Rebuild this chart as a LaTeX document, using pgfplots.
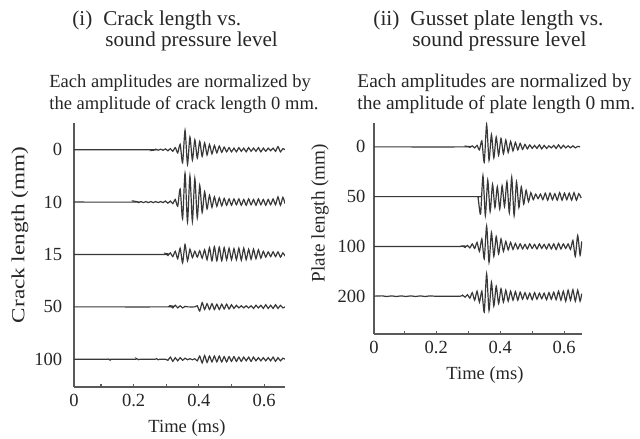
\documentclass[border=0pt]{standalone}
\usepackage{fontspec}
\setmainfont{Liberation Serif}
\usepackage{pgfplots}
\pgfplotsset{compat=1.18}

\pgfplotsset{
  wave/.style={
    scale only axis,
    axis x line*=bottom, axis y line*=left,
    axis line style={draw=black!65, line width=0.7pt},
    tick align=inside, major tick length=1.7bp,
    xtick style={draw=black!65, line width=0.6pt},
    ytick style={draw=none},
    ticklabel style={font=\fontsize{9.3}{10}\selectfont, text=black!85},
    /pgf/number format/assume math mode=true,
    ytick={0,-1,-2,-3,-4},
  },
  trace/.style={draw=black!78, line width=0.6pt, smooth, tension=0.4, mark=none},
}

\begin{document}
\begin{tikzpicture}
\path[use as bounding box] (0,0) rectangle (320bp,219.5bp);

% titles and notes
\begin{scope}[every node/.style={inner sep=0pt, text=black!85}]
\node[anchor=base west, font=\fontsize{10.6}{12}\selectfont] at (36bp,206.5bp) {(i)};
\node[anchor=base west, font=\fontsize{10.6}{12}\selectfont] at (51.5bp,206.5bp) {Crack length vs.};
\node[anchor=base west, font=\fontsize{10.6}{12}\selectfont] at (52.5bp,196.2bp) {sound pressure level};
\node[anchor=base west, font=\fontsize{9.3}{10}\selectfont] at (24.5bp,175.9bp) {Each amplitudes are normalized by};
\node[anchor=base west, font=\fontsize{9.3}{10}\selectfont] at (24.5bp,164.5bp) {the amplitude of crack length 0 mm.};

\node[anchor=base west, font=\fontsize{10.7}{12}\selectfont] at (186.5bp,206.5bp) {(ii)};
\node[anchor=base west, font=\fontsize{10.7}{12}\selectfont] at (205bp,206.5bp) {Gusset plate length vs.};
\node[anchor=base west, font=\fontsize{10.7}{12}\selectfont] at (206bp,196.2bp) {sound pressure level};
\node[anchor=base west, font=\fontsize{9.75}{10}\selectfont] at (178.5bp,175.9bp) {Each amplitudes are normalized by};
\node[anchor=base west, font=\fontsize{9.75}{10}\selectfont] at (178.5bp,164.5bp) {the amplitude of plate length 0 mm.};

\node[rotate=90, font=\fontsize{9.3}{10}\selectfont] at (10bp,102bp) {\scalebox{1.25}[1]{Crack length (mm)}};
\node[rotate=90, font=\fontsize{9.6}{10}\selectfont] at (160bp,113bp) {Plate length (mm)};
\node[anchor=base, font=\fontsize{9.3}{10}\selectfont] at (93.5bp,3.5bp) {Time (ms)};
\node[anchor=base, font=\fontsize{9.3}{10}\selectfont] at (242.5bp,29.8bp) {Time (ms)};
\end{scope}

% (i) crack length
\begin{axis}[wave,
  at={(37bp,26bp)}, anchor=south west,
  width=105.5bp, height=132bp,
  xmin=0.017, xmax=0.664, ymin=-4.53, ymax=0.51,
  xtick={0.017,0.1,0.2,0.3,0.4,0.5,0.6},
  xticklabels={0,,0.2,,0.4,,0.6},
  yticklabels={0,10,15,50,100},
  yticklabel style={xshift=-2.4bp},
]
% 0 mm
\addplot[trace] coordinates {
(0.017,0)(0.25,0)(0.26,-0.01)(0.2675,0.01)(0.275,-0.01)(0.2825,0.01)(0.29,-0.01)
(0.2975,0.015)(0.305,-0.02)(0.3125,0.02)(0.32,-0.03)(0.3275,0.04)(0.335,-0.06)
(0.3425,0.1)(0.35,-0.25)(0.3575,0.37)(0.365,-0.28)(0.3725,0.24)(0.38,-0.2)
(0.3875,0.19)(0.395,-0.16)(0.4025,0.16)(0.41,-0.13)(0.4175,0.13)(0.425,-0.1)
(0.4325,0.1)(0.44,-0.08)(0.4475,0.08)(0.455,-0.06)(0.4625,0.07)(0.47,-0.05)
(0.4775,0.05)(0.485,-0.04)(0.4925,0.04)(0.5,-0.04)(0.5075,0.03)(0.515,-0.04)
(0.5225,0.04)(0.53,-0.03)(0.5375,0.03)(0.545,-0.04)(0.5525,0.04)(0.56,-0.03)
(0.5675,0.03)(0.575,-0.03)(0.5825,0.04)(0.59,-0.04)(0.5975,0.03)(0.605,-0.03)
(0.6125,0.03)(0.62,-0.02)(0.6275,0.03)(0.635,-0.03)(0.6425,0.06)(0.65,-0.04)
(0.6575,0.02)(0.664,0)
};
% 10 mm
\addplot[trace, y filter/.expression={y-1}] coordinates {
(0.017,0)(0.2,0)(0.2075,0.01)(0.215,-0.01)(0.2225,0.01)(0.23,-0.01)(0.2375,0.01)
(0.245,-0.01)(0.2525,0.01)(0.26,-0.01)(0.2675,0.01)(0.275,-0.01)(0.2825,0.01)
(0.29,-0.01)(0.2975,0.02)(0.305,-0.02)(0.3125,0.02)(0.32,-0.03)(0.3275,0.05)
(0.335,-0.08)(0.3425,0.25)(0.35,-0.32)(0.3575,0.55)(0.365,-0.38)(0.3725,0.5)
(0.38,-0.37)(0.3875,0.45)(0.395,-0.3)(0.4025,0.32)(0.41,-0.2)(0.4175,0.2)
(0.425,-0.13)(0.4325,0.13)(0.44,-0.1)(0.4475,0.1)(0.455,-0.08)(0.4625,0.08)
(0.47,-0.07)(0.4775,0.07)(0.485,-0.06)(0.4925,0.06)(0.5,-0.06)(0.5075,0.06)
(0.515,-0.05)(0.5225,0.06)(0.53,-0.06)(0.5375,0.05)(0.545,-0.06)(0.5525,0.06)
(0.56,-0.05)(0.5675,0.05)(0.575,-0.06)(0.5825,0.06)(0.59,-0.05)(0.5975,0.05)
(0.605,-0.06)(0.6125,0.05)(0.62,-0.05)(0.6275,0.06)(0.635,-0.05)(0.6425,0.1)
(0.65,-0.06)(0.6575,0.09)(0.664,-0.03)
};
% 15 mm
\addplot[trace, y filter/.expression={y-2}] coordinates {
(0.017,0)(0.29,0)(0.2975,0.02)(0.305,-0.02)(0.3125,0.03)(0.32,-0.04)(0.3275,0.06)
(0.335,-0.08)(0.3425,0.12)(0.35,-0.16)(0.3575,0.19)(0.365,-0.12)(0.3725,0.1)
(0.38,-0.06)(0.3875,0.06)(0.395,-0.05)(0.4025,0.07)(0.41,-0.07)(0.4175,0.09)
(0.425,-0.1)(0.4325,0.13)(0.44,-0.12)(0.4475,0.15)(0.455,-0.12)(0.4625,0.14)
(0.47,-0.12)(0.4775,0.13)(0.485,-0.1)(0.4925,0.12)(0.5,-0.1)(0.5075,0.11)
(0.515,-0.1)(0.5225,0.12)(0.53,-0.11)(0.5375,0.12)(0.545,-0.1)(0.5525,0.1)
(0.56,-0.09)(0.5675,0.1)(0.575,-0.08)(0.5825,0.09)(0.59,-0.07)(0.5975,0.06)
(0.605,-0.05)(0.6125,0.05)(0.62,-0.04)(0.6275,0.05)(0.635,-0.04)(0.6425,0.05)
(0.65,-0.05)(0.6575,0.03)(0.664,-0.03)
};
% 50 mm
\addplot[trace, y filter/.expression={y-3}] coordinates {
(0.017,0)(0.305,0)(0.3125,0.02)(0.32,-0.02)(0.3275,0.03)(0.335,-0.02)(0.3425,0.02)
(0.35,-0.02)(0.3575,0.01)(0.365,0)(0.3875,0)(0.395,0.02)(0.4025,-0.08)(0.41,0.08)
(0.4175,-0.05)(0.425,0.06)(0.4325,-0.05)(0.44,0.06)(0.4475,-0.05)(0.455,0.05)
(0.4625,-0.05)(0.47,0.05)(0.4775,-0.04)(0.485,0.05)(0.4925,-0.04)(0.5,0.04)
(0.5075,-0.03)(0.515,0.03)(0.5225,-0.02)(0.53,0.02)(0.5375,-0.02)(0.545,0.02)
(0.5525,-0.02)(0.56,0.02)(0.5675,-0.03)(0.575,0.03)(0.5825,-0.02)(0.59,0.03)
(0.5975,-0.03)(0.605,0.04)(0.6125,-0.03)(0.62,0.03)(0.6275,-0.03)(0.635,0.04)
(0.6425,-0.03)(0.65,0.03)(0.6575,-0.02)(0.664,0)
};
% 100 mm
\addplot[trace, y filter/.expression={y-4}] coordinates {
(0.017,0)(0.115,0)(0.12,0.008)(0.125,-0.008)(0.13,0)(0.205,0)(0.21,0.008)(0.215,-0.008)
(0.22,0)(0.265,0)(0.27,0.012)(0.275,-0.01)(0.28,0)(0.2975,0)(0.305,-0.02)
(0.3125,0.04)(0.32,-0.04)(0.3275,0.03)(0.335,-0.03)(0.3425,0.03)(0.35,-0.02)
(0.3575,0.02)(0.365,-0.01)(0.3725,0.01)(0.38,-0.01)(0.3875,0.01)(0.395,-0.03)
(0.4025,0.06)(0.41,-0.07)(0.4175,0.07)(0.425,-0.06)(0.4325,0.06)(0.44,-0.05)
(0.4475,0.06)(0.455,-0.05)(0.4625,0.06)(0.47,-0.05)(0.4775,0.05)(0.485,-0.05)
(0.4925,0.05)(0.5,-0.04)(0.5075,0.05)(0.515,-0.04)(0.5225,0.04)(0.53,-0.04)
(0.5375,0.04)(0.545,-0.03)(0.5525,0.04)(0.56,-0.04)(0.5675,0.04)(0.575,-0.03)
(0.5825,0.03)(0.59,-0.03)(0.5975,0.03)(0.605,-0.03)(0.6125,0.03)(0.62,-0.03)
(0.6275,0.04)(0.635,-0.04)(0.6425,0.03)(0.65,-0.03)(0.6575,0.02)(0.664,0)
};
\end{axis}

% (ii) gusset plate length
\begin{axis}[wave,
  at={(187bp,52.5bp)}, anchor=south west,
  width=104bp, height=105.5bp,
  xmin=0.005, xmax=0.656, ymin=-3.76, ymax=0.48,
  xtick={0.005,0.1,0.2,0.3,0.4,0.5,0.6},
  xticklabels={0,,0.2,,0.4,,0.6},
  ytick={0,-1,-2,-3},
  yticklabels={0,50,100,200},
  yticklabel style={xshift=-0.8bp},
]
% 0 mm
\addplot[trace] coordinates {
(0.005,0)(0.29,0)(0.2975,0.01)(0.305,-0.01)(0.3125,0.02)(0.32,-0.02)(0.3275,0.03)
(0.335,-0.06)(0.3425,0.12)(0.35,-0.31)(0.3575,0.45)(0.365,-0.27)(0.3725,0.25)
(0.38,-0.22)(0.3875,0.2)(0.395,-0.17)(0.4025,0.17)(0.41,-0.14)(0.4175,0.14)
(0.425,-0.11)(0.4325,0.11)(0.44,-0.08)(0.4475,0.09)(0.455,-0.06)(0.4625,0.07)
(0.47,-0.05)(0.4775,0.05)(0.485,-0.04)(0.4925,0.04)(0.5,-0.03)(0.5075,0.03)
(0.515,-0.03)(0.5225,0.04)(0.53,-0.04)(0.5375,0.03)(0.545,-0.03)(0.5525,0.02)
(0.56,-0.02)(0.5675,0.03)(0.575,-0.03)(0.5825,0.04)(0.59,-0.03)(0.5975,0.03)
(0.605,-0.02)(0.6125,0.02)(0.62,-0.02)(0.6275,0.02)(0.635,-0.02)(0.6425,0.01)
(0.65,0)
};
% 50 mm
\addplot[trace, y filter/.expression={y-1}] coordinates {
(0.005,0)(0.3235,0)(0.3305,-0.02)(0.3385,-0.35)(0.346,0.42)(0.3535,-0.38)(0.361,0.33)
(0.3685,-0.3)(0.376,0.25)(0.3835,-0.22)(0.391,0.2)(0.3985,-0.25)(0.406,0.22)
(0.4135,-0.2)(0.421,0.3)(0.4285,-0.32)(0.436,0.39)(0.4435,-0.38)(0.451,0.3)
(0.4585,-0.22)(0.466,0.2)(0.4735,-0.15)(0.481,0.13)(0.4885,-0.1)(0.496,0.08)
(0.5035,-0.06)(0.511,0.05)(0.5185,-0.04)(0.526,0.05)(0.5335,-0.06)(0.541,0.07)
(0.5485,-0.07)(0.556,0.07)(0.5635,-0.06)(0.571,0.06)(0.5785,-0.07)(0.586,0.08)
(0.5935,-0.07)(0.601,0.07)(0.6085,-0.06)(0.616,0.07)(0.6235,-0.07)(0.631,0.08)
(0.6385,-0.07)(0.646,0.06)(0.6535,-0.03)
};
% 100 mm
\addplot[trace, y filter/.expression={y-2}] coordinates {
(0.005,0)(0.275,0)(0.2825,0.01)(0.29,-0.02)(0.2975,0.02)(0.305,-0.03)(0.3125,0.05)
(0.32,-0.04)(0.3275,0.08)(0.335,-0.1)(0.3425,0.15)(0.35,-0.25)(0.3575,0.41)
(0.365,-0.32)(0.3725,0.28)(0.38,-0.2)(0.3875,0.2)(0.395,-0.15)(0.4025,0.15)
(0.41,-0.1)(0.4175,0.1)(0.425,-0.07)(0.4325,0.08)(0.44,-0.06)(0.4475,0.06)
(0.455,-0.05)(0.4625,0.05)(0.47,-0.05)(0.4775,0.04)(0.485,-0.05)(0.4925,0.05)
(0.5,-0.04)(0.5075,0.04)(0.515,-0.05)(0.5225,0.05)(0.53,-0.04)(0.5375,0.04)
(0.545,-0.05)(0.5525,0.05)(0.56,-0.05)(0.5675,0.05)(0.575,-0.06)(0.5825,0.06)
(0.59,-0.05)(0.5975,0.05)(0.605,-0.04)(0.6125,0.05)(0.62,-0.06)(0.6275,0.12)
(0.635,-0.2)(0.6425,0.22)(0.65,-0.18)(0.655,0.1)
};
% 200 mm
\addplot[trace, y filter/.expression={y-3}] coordinates {
(0.005,0)(0.03,0.006)(0.045,-0.006)(0.06,0.006)(0.075,-0.006)(0.09,0.006)(0.105,-0.006)
(0.12,0.006)(0.135,-0.006)(0.15,0.006)(0.165,-0.006)(0.18,0.006)(0.195,0)(0.275,0)
(0.2825,0.02)(0.29,-0.02)(0.2975,0.03)(0.305,-0.04)(0.3125,0.07)(0.32,-0.08)
(0.3275,0.1)(0.335,-0.12)(0.3425,0.1)(0.35,-0.32)(0.3575,0.45)(0.365,-0.29)
(0.3725,0.28)(0.38,-0.2)(0.3875,0.2)(0.395,-0.15)(0.4025,0.15)(0.41,-0.12)
(0.4175,0.12)(0.425,-0.1)(0.4325,0.1)(0.44,-0.08)(0.4475,0.09)(0.455,-0.08)
(0.4625,0.08)(0.47,-0.06)(0.4775,0.07)(0.485,-0.06)(0.4925,0.06)(0.5,-0.07)
(0.5075,0.07)(0.515,-0.06)(0.5225,0.06)(0.53,-0.05)(0.5375,0.06)(0.545,-0.07)
(0.5525,0.07)(0.56,-0.06)(0.5675,0.08)(0.575,-0.07)(0.5825,0.1)(0.59,-0.08)
(0.5975,0.1)(0.605,-0.1)(0.6125,0.12)(0.62,-0.08)(0.6275,0.13)(0.635,-0.1)
(0.6425,0.12)(0.65,-0.1)(0.655,0.05)
};
\end{axis}
\end{tikzpicture}
\end{document}
